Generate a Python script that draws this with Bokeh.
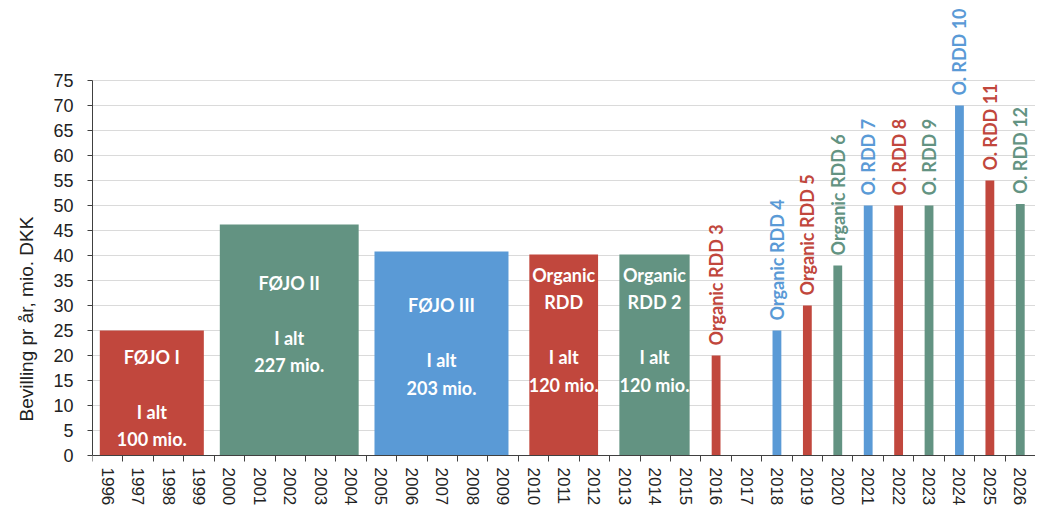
import math
from bokeh.plotting import figure
from bokeh.models import ColumnDataSource, Range1d, FixedTicker, Title
from bokeh.core.properties import value
from bokeh.embed import file_html
from bokeh.resources import INLINE

# ---------------- data ----------------
years = [str(y) for y in range(1996, 2027)]

prog_names = ["FØJO I", "FØJO II", "FØJO III", "Organic RDD", "Organic RDD 2"]
prog_start = [1996, 2000, 2005, 2010, 2013]
prog_end = [1999, 2004, 2009, 2012, 2015]
prog_per_year = [25, 46.2, 40.8, 40.2, 40.2]
prog_total = [100, 227, 203, 120, 120]
prog_colour_keys = ["red", "green", "blue", "red", "green"]

single_names = ["Organic RDD 3", "Organic RDD 4", "Organic RDD 5", "Organic RDD 6",
                "O. RDD 7", "O. RDD 8", "O. RDD 9", "O. RDD 10", "O. RDD 11", "O. RDD 12"]
single_years = [2016, 2018, 2019, 2020, 2021, 2022, 2023, 2024, 2025, 2026]
single_values = [20, 25, 30, 38, 50, 50, 50, 70, 55, 50.3]
single_colour_keys = ["red", "blue", "red", "green", "blue", "red", "green", "blue", "red", "green"]

yticks = list(range(0, 80, 5))

# ---------------- styling / layout ----------------
COLOURS = {"red": "#C1473D", "green": "#639382", "blue": "#5A9AD6"}
left_pad = [0.26, 0.315, 0.23, 0.14, 0.18]
right_pad = [0.16, 0.25, 0.175, 0.12, 0.13]
label_top = [22.0, 36.8, 32.3, 38.4, 38.4]   # where the white text block starts (y units)

W, H = 1035, 508
Y_ZERO_PX = 455      # pixel row of value 0 (from top of canvas)
Y_TOP_PX = 80        # pixel row of value 75
ppu = (Y_ZERO_PX - Y_TOP_PX) / 75.0
y_end = 75 + Y_TOP_PX / ppu
y_start = -(H - Y_ZERO_PX) / ppu

idx = {int(y): i for i, y in enumerate(years)}


def prog_label(name, total):
    if name.startswith("Organic "):
        head = "Organic\n" + name[len("Organic "):]
    else:
        head = name
    return f"{head}\n\nI alt\n{total} mio."


prog_src = ColumnDataSource(dict(
    left=[idx[s] - lp for s, lp in zip(prog_start, left_pad)],
    right=[idx[e] + rp for e, rp in zip(prog_end, right_pad)],
    top=prog_per_year,
    bottom=[0] * len(prog_names),
    cx=[((idx[s] - lp) + (idx[e] + rp)) / 2 for s, e, lp, rp in zip(prog_start, prog_end, left_pad, right_pad)],
    ly=label_top,
    label=[prog_label(n, t) for n, t in zip(prog_names, prog_total)],
    color=[COLOURS[k] for k in prog_colour_keys],
))

single_src = ColumnDataSource(dict(
    x=[idx[y] for y in single_years],
    top=single_values,
    label=single_names,
    color=[COLOURS[k] for k in single_colour_keys],
))

p = figure(width=W, height=H, output_backend="svg", toolbar_location=None,
           x_range=Range1d(-0.5, len(years) - 0.5), y_range=Range1d(y_start, y_end),
           min_border_top=0, min_border_right=0, min_border_left=89, min_border_bottom=0)
p.outline_line_color = None
p.background_fill_color = "white"
p.border_fill_color = "white"

p.quad(left="left", right="right", top="top", bottom="bottom", source=prog_src,
       fill_color="color", line_color=None)
p.text(x="cx", y="ly", text="label", source=prog_src, text_align="center", text_baseline="top",
       text_color="white", text_font=value("Lato"), text_font_style="bold",
       text_font_size="18px", text_line_height=1.25)

p.vbar(x="x", top="top", width=0.29, source=single_src, fill_color="color", line_color=None)
p.text(x="x", y="top", text="label", source=single_src, angle=math.pi / 2,
       text_align="left", text_baseline="middle", y_offset=-10,
       text_color="color", text_font=value("Lato"), text_font_style="bold", text_font_size="18px")

# x axis drawn at value 0, ticks between the year categories
xa = p.xaxis[0]
xa.fixed_location = 0
xa.ticker = FixedTicker(ticks=list(range(len(years))), minor_ticks=[i - 0.5 for i in range(len(years) + 1)])
xa.major_label_overrides = {i: y for i, y in enumerate(years)}
xa.major_label_orientation = "vertical"
xa.major_tick_out = 0
xa.major_tick_in = 0
xa.minor_tick_out = 6
xa.minor_tick_in = 0
xa.major_label_standoff = 6
xa.axis_line_color = "#404040"
xa.minor_tick_line_color = "#404040"
xa.major_label_text_font = "Liberation Sans"
xa.major_label_text_font_size = "17px"
xa.major_label_text_color = "#222222"

# y axis
ya = p.yaxis[0]
ya.ticker = FixedTicker(ticks=yticks)
ya.bounds = (0, 75)
ya.major_tick_out = 5
ya.major_tick_in = 0
ya.minor_tick_out = 0
ya.minor_tick_in = 0
ya.major_label_standoff = 14
ya.axis_line_color = "#404040"
ya.major_tick_line_color = "#404040"
ya.major_label_text_font = "Liberation Sans"
ya.major_label_text_font_size = "18px"
ya.major_label_text_color = "#222222"

p.xgrid.grid_line_color = None
p.ygrid.ticker = FixedTicker(ticks=yticks)
p.ygrid.grid_line_color = "#DADADA"
p.ygrid.grid_line_width = 1

p.add_layout(Title(text="Bevilling pr år, mio. DKK", align="left", offset=87, standoff=27,
                   text_font="Liberation Sans", text_font_size="19px", text_font_style="normal",
                   text_color="#222222"), "left")

open("out.html", "w").write(file_html(p, INLINE))
